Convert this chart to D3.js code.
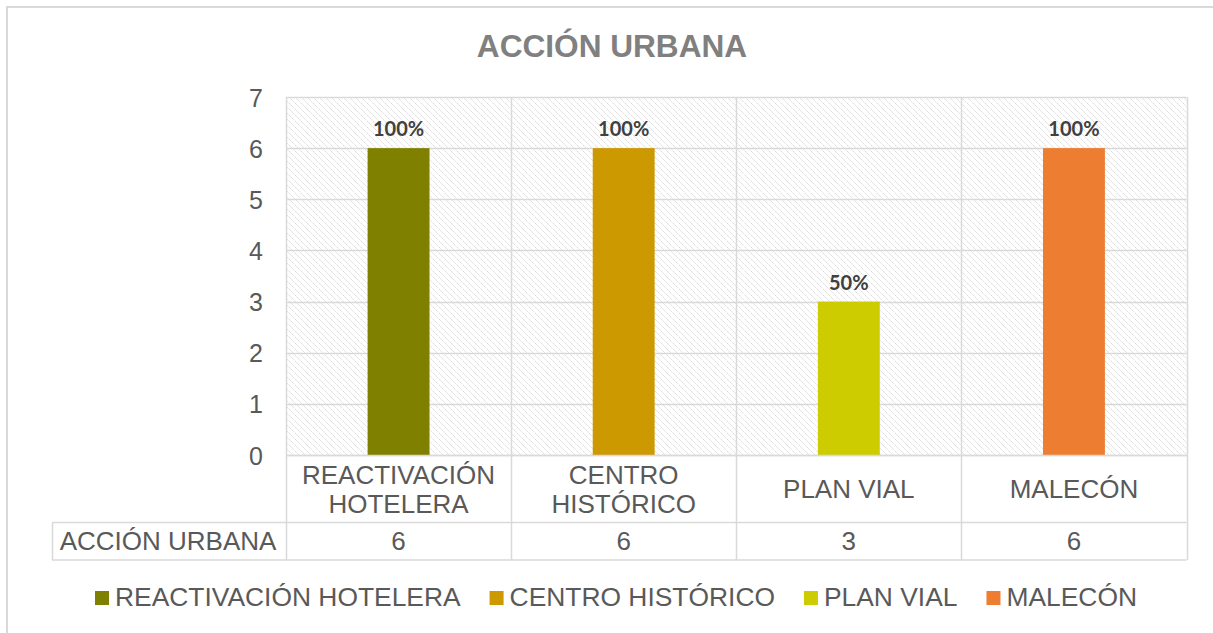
<!DOCTYPE html>
<html><head><meta charset="utf-8">
<script src="https://cdn.jsdelivr.net/npm/d3@7"></script>
<style>html,body{margin:0;padding:0;background:#fff;overflow:hidden}svg{display:block}</style>
</head><body>
<script>
const title = "ACCIÓN URBANA";
const categories = ["REACTIVACIÓN HOTELERA", "CENTRO HISTÓRICO", "PLAN VIAL", "MALECÓN"];
const categoryLines = [["REACTIVACIÓN", "HOTELERA"], ["CENTRO", "HISTÓRICO"], ["PLAN VIAL"], ["MALECÓN"]];
const seriesName = "ACCIÓN URBANA";
const values = [6, 6, 3, 6];
const pctLabels = ["100%", "100%", "50%", "100%"];
const yTicks = [0, 1, 2, 3, 4, 5, 6, 7];
const colors = ["#808000", "#cc9900", "#cccc00", "#ed7d31"];

(function () {
const W = 1213, H = 633;
const svg = d3.select("body").append("svg").attr("width", W).attr("height", H);

const defs = svg.append("defs");
const pat = defs.append("pattern").attr("id", "hatch").attr("patternUnits", "userSpaceOnUse")
  .attr("width", 6).attr("height", 6);
pat.append("rect").attr("width", 6).attr("height", 6).attr("fill", "#fff");
pat.append("path").attr("d", "M-1,-1 L7,7 M-1,5 L1,7 M5,-1 L7,1")
  .attr("stroke", "#d6d6d6").attr("stroke-width", 1).attr("stroke-dasharray", "2,1");

// outer border
svg.append("rect").attr("x", 7).attr("y", 7).attr("width", 1230).attr("height", 660)
  .attr("fill", "#fff").attr("stroke", "#d9d9d9").attr("stroke-width", 2);

const pLeft = 286, pRight = 1186.5, pTop = 97, pBottom = 455;
const x = d3.scaleBand().domain(categories).range([pLeft, pRight]).padding(0);
const y = d3.scaleLinear().domain([0, 7]).range([pBottom, pTop]);

// title
svg.append("text").attr("x", 612).attr("y", 57).attr("text-anchor", "middle")
  .attr("font-family", "Liberation Sans, Arial, sans-serif").attr("font-weight", "bold")
  .attr("font-size", 31.6).attr("fill", "#808080").text(title);

// plot background hatch
svg.append("rect").attr("x", pLeft).attr("y", pTop).attr("width", pRight - pLeft).attr("height", pBottom - pTop)
  .attr("fill", "url(#hatch)");

const gridColor = "#d9d9d9";
svg.append("g").selectAll("line").data(yTicks).join("line")
  .attr("x1", pLeft).attr("x2", pRight)
  .attr("y1", d => Math.round(y(d)) + 0.5).attr("y2", d => Math.round(y(d)) + 0.5)
  .attr("stroke", gridColor).attr("stroke-width", 1.5);

const tableRow1 = 522.5, tableBottom = 560;
const vx = categories.map(c => x(c)).concat([pRight]);
svg.append("g").selectAll("line").data(vx).join("line")
  .attr("x1", d => Math.round(d) + 0.5).attr("x2", d => Math.round(d) + 0.5)
  .attr("y1", pTop).attr("y2", tableBottom)
  .attr("stroke", gridColor).attr("stroke-width", 1.5);

svg.append("line").attr("x1", 52).attr("x2", pRight).attr("y1", tableRow1).attr("y2", tableRow1)
  .attr("stroke", gridColor).attr("stroke-width", 1.5);
svg.append("line").attr("x1", 52).attr("x2", pRight).attr("y1", tableBottom).attr("y2", tableBottom)
  .attr("stroke", gridColor).attr("stroke-width", 1.5);
svg.append("line").attr("x1", 52.5).attr("x2", 52.5).attr("y1", tableRow1).attr("y2", tableBottom)
  .attr("stroke", gridColor).attr("stroke-width", 1.5);

const bw = x.bandwidth() * 0.275;
svg.append("g").selectAll("rect").data(values).join("rect")
  .attr("x", (d, i) => x(categories[i]) + x.bandwidth() / 2 - bw / 2)
  .attr("y", d => y(d)).attr("width", bw).attr("height", d => y(0) - y(d))
  .attr("fill", (d, i) => colors[i]);

svg.append("line").attr("x1", pLeft).attr("x2", pRight).attr("y1", Math.round(y(0)) + 0.5).attr("y2", Math.round(y(0)) + 0.5)
  .attr("stroke", gridColor).attr("stroke-width", 1.5);

svg.append("g").selectAll("text").data(values).join("text")
  .attr("x", (d, i) => x(categories[i]) + x.bandwidth() / 2)
  .attr("y", d => y(d) - 12)
  .attr("text-anchor", "middle").attr("font-family", "Lato, Carlito, Calibri, sans-serif")
  .attr("font-weight", "bold").attr("font-size", 20).attr("fill", "#404040")
  .text((d, i) => pctLabels[i]);

const yAxis = d3.axisLeft(y).tickValues(yTicks).tickSize(0).tickPadding(0).tickFormat(d3.format("d"));
const ga = svg.append("g").attr("transform", `translate(263,0)`).call(yAxis);
ga.select(".domain").remove();
ga.selectAll("text").attr("font-family", "Liberation Sans, Arial, sans-serif")
  .attr("font-size", 25).attr("fill", "#595959").attr("dy", "0.36em");

const font = "Liberation Sans, Arial, sans-serif";
categories.forEach((c, i) => {
  const lines = categoryLines[i];
  const cx = x(c) + x.bandwidth() / 2;
  const lh = 29;
  const base0 = 498 - (lines.length - 1) * lh / 2;
  const t = svg.append("text").attr("text-anchor", "middle").attr("font-family", font)
    .attr("font-size", 26).attr("fill", "#595959");
  lines.forEach((ln, j) => t.append("tspan").attr("x", cx).attr("y", base0 + j * lh).text(ln));
});

svg.append("text").attr("x", 168).attr("y", 550).attr("text-anchor", "middle").attr("font-family", font)
  .attr("font-size", 26).attr("fill", "#595959").text(seriesName);
svg.append("g").selectAll("text").data(values).join("text")
  .attr("x", (d, i) => x(categories[i]) + x.bandwidth() / 2).attr("y", 550)
  .attr("text-anchor", "middle").attr("font-family", font)
  .attr("font-size", 26).attr("fill", "#595959").text(d => d);

const lg = svg.append("g");
let cursor = 0;
categories.forEach((c, i) => {
  const g = lg.append("g");
  g.append("rect").attr("x", cursor).attr("y", -15).attr("width", 14).attr("height", 14).attr("fill", colors[i]);
  const t = g.append("text").attr("x", cursor + 20).attr("y", 0).attr("font-family", font)
    .attr("font-size", 26.4).attr("fill", "#595959").text(c);
  const w = t.node().getComputedTextLength();
  cursor += 20 + w + 29;
});
const total = cursor - 29;
lg.attr("transform", `translate(${616 - total / 2},606)`);
})();
</script>
</body></html>
